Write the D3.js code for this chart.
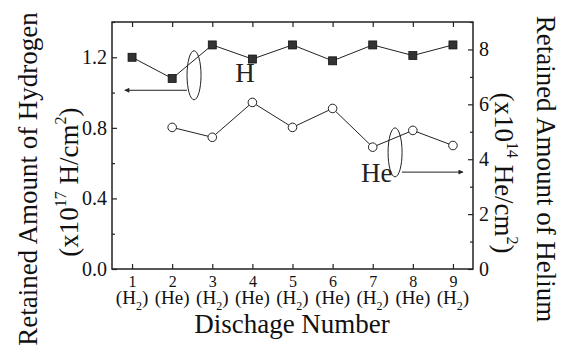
<!DOCTYPE html>
<html>
<head>
<meta charset="utf-8">
<script src="https://cdn.jsdelivr.net/npm/d3@7"></script>
<style>
body { margin: 0; background: white; }
svg { display: block; font-family: "Liberation Serif", "Times New Roman", serif; }
</style>
</head>
<body>
<div id="chart"></div>
<script>
var svgWidth = 574
var svgHeight = 356
var margin = {left: 112, top: 22, right: 101, bottom: 87}

// discharge number and gas used in each discharge
var discharges = [1, 2, 3, 4, 5, 6, 7, 8, 9]
var gases = ["H", "He", "H", "He", "H", "He", "H", "He", "H"]
// retained hydrogen, x10^17 H/cm^2 (left axis)
var hydrogen = [1.20, 1.08, 1.27, 1.19, 1.27, 1.18, 1.27, 1.21, 1.27]
// retained helium, x10^14 He/cm^2 (right axis), from discharge 2 on
var heliumX = [2, 3, 4, 5, 6, 7, 8, 9]
var helium = [5.16, 4.80, 6.07, 5.16, 5.85, 4.44, 5.05, 4.50]

var leftTicks = [0.0, 0.4, 0.8, 1.2]
var leftMinor = [0.2, 0.6, 1.0, 1.4]
var rightTicks = [0, 2, 4, 6, 8]
var rightMinor = [1, 3, 5, 7, 9]

var plotW = svgWidth - margin.left - margin.right
var plotH = svgHeight - margin.top - margin.bottom

var x = d3.scaleLinear().domain([0.5, 9.5]).range([margin.left, margin.left + plotW])
var yL = d3.scaleLinear().domain([0, 1.4]).range([margin.top + plotH, margin.top])
var yR = d3.scaleLinear().domain([0, 9]).range([margin.top + plotH, margin.top])

var svg = d3.select("#chart")
	.append("svg")
	.attr("width", svgWidth)
	.attr("height", svgHeight)

svg.append("defs").append("marker")
	.attr("id", "arrow")
	.attr("viewBox", "0 0 10 10")
	.attr("refX", 9)
	.attr("refY", 5)
	.attr("markerWidth", 7)
	.attr("markerHeight", 5)
	.attr("markerUnits", "userSpaceOnUse")
	.attr("orient", "auto")
	.append("path")
	.attr("d", "M0,0L10,5L0,10z")
	.attr("fill", "#222")

// frame
svg.append("rect")
	.attr("x", margin.left)
	.attr("y", margin.top)
	.attr("width", plotW)
	.attr("height", plotH)
	.attr("fill", "none")
	.attr("stroke", "#222")
	.attr("stroke-width", 1.5)

var styleAxis = function(g) {
	g.select(".domain").remove()
	g.selectAll(".tick line").attr("stroke", "#222").attr("stroke-width", 1.2)
	g.selectAll(".tick text").attr("fill", "#111")
}

// left axis
svg.append("g")
	.attr("transform", "translate(" + margin.left + ",0)")
	.call(d3.axisLeft(yL).tickValues(leftTicks).tickSize(-5).tickPadding(5).tickFormat(d3.format(".1f")))
	.call(styleAxis)
	.attr("font-family", null)
	.attr("font-size", 20)
svg.append("g")
	.attr("transform", "translate(" + margin.left + ",0)")
	.call(d3.axisLeft(yL).tickValues(leftMinor).tickSize(-3).tickFormat(""))
	.call(styleAxis)

// right axis
svg.append("g")
	.attr("transform", "translate(" + (margin.left + plotW) + ",0)")
	.call(d3.axisRight(yR).tickValues(rightTicks).tickSize(-5).tickPadding(6).tickFormat(d3.format("d")))
	.call(styleAxis)
	.attr("font-family", null)
	.attr("font-size", 20)
svg.append("g")
	.attr("transform", "translate(" + (margin.left + plotW) + ",0)")
	.call(d3.axisRight(yR).tickValues(rightMinor).tickSize(-3).tickFormat(""))
	.call(styleAxis)

// bottom axis
svg.append("g")
	.attr("transform", "translate(0," + (margin.top + plotH) + ")")
	.call(d3.axisBottom(x).tickValues(discharges).tickSize(-5).tickPadding(7).tickFormat(d3.format("d")))
	.call(styleAxis)
	.attr("font-family", null)
	.attr("font-size", 16)

// top axis, ticks only
svg.append("g")
	.attr("transform", "translate(0," + margin.top + ")")
	.call(d3.axisTop(x).tickValues(discharges).tickSize(-5).tickFormat(""))
	.call(styleAxis)

// gas labels under the numbers
var gasText = svg.append("g")
	.selectAll("text")
	.data(discharges)
	.enter()
	.append("text")
	.attr("x", function(d){return x(d)})
	.attr("y", margin.top + plotH + 35)
	.attr("text-anchor", "middle")
	.attr("font-size", 19)
	.attr("fill", "#111")
gasText.each(function(d, i) {
	var t = d3.select(this)
	if (gases[i] === "H") {
		t.append("tspan").text("(H")
		t.append("tspan").attr("font-size", 12).attr("dy", 6).text("2")
		t.append("tspan").attr("dy", -6).text(")")
	} else {
		t.append("tspan").text("(He)")
	}
})

// lines and markers
var line = d3.line()

svg.append("path")
	.attr("d", line(discharges.map(function(d, i){return [x(d), yL(hydrogen[i])]})))
	.attr("fill", "none")
	.attr("stroke", "#222")
	.attr("stroke-width", 1)

svg.append("path")
	.attr("d", line(heliumX.map(function(d, i){return [x(d), yR(helium[i])]})))
	.attr("fill", "none")
	.attr("stroke", "#222")
	.attr("stroke-width", 1)

var sq = 8
svg.append("g")
	.selectAll("rect")
	.data(discharges)
	.enter()
	.append("rect")
	.attr("x", function(d){return x(d) - sq/2})
	.attr("y", function(d, i){return yL(hydrogen[i]) - sq/2})
	.attr("width", sq)
	.attr("height", sq)
	.attr("fill", "#333")
	.attr("stroke", "#111")
	.attr("stroke-width", 0.8)

svg.append("g")
	.selectAll("circle")
	.data(heliumX)
	.enter()
	.append("circle")
	.attr("cx", function(d){return x(d)})
	.attr("cy", function(d, i){return yR(helium[i])})
	.attr("r", 4.3)
	.attr("fill", "white")
	.attr("stroke", "#222")
	.attr("stroke-width", 1)

// annotations: ellipse, arrow to axis, label (in data units)
var hNote = {cx: 2.545, cy: 1.098, x1: 2.37, x2: 0.82, ay: 1.013, tx: 3.57, ty: 1.058, text: "H"}
var heNote = {cx: 7.557, cy: 4.25, x1: 7.73, x2: 9.25, ay: 3.53, tx: 6.71, ty: 3.16, text: "He"}

var drawNote = function(n, yScale) {
	svg.append("ellipse")
		.attr("cx", x(n.cx))
		.attr("cy", yScale(n.cy))
		.attr("rx", 7)
		.attr("ry", 24.5)
		.attr("fill", "none")
		.attr("stroke", "#222")
		.attr("stroke-width", 1)
	svg.append("line")
		.attr("x1", x(n.x1))
		.attr("x2", x(n.x2))
		.attr("y1", yScale(n.ay))
		.attr("y2", yScale(n.ay))
		.attr("stroke", "#222")
		.attr("stroke-width", 1)
		.attr("marker-end", "url(#arrow)")
	svg.append("text")
		.attr("x", x(n.tx))
		.attr("y", yScale(n.ty))
		.attr("font-size", 27)
		.attr("fill", "#222")
		.text(n.text)
}
drawNote(hNote, yL)
drawNote(heNote, yR)

// axis titles
svg.append("text")
	.attr("x", margin.left + plotW / 2 - 0.5)
	.attr("y", 333)
	.attr("text-anchor", "middle")
	.attr("font-size", 27)
	.attr("fill", "#111")
	.text("Dischage Number")

var leftTitle = svg.append("g").attr("transform", "translate(37,179) rotate(-90)")
leftTitle.append("text")
	.attr("text-anchor", "middle")
	.attr("font-size", 27)
	.attr("fill", "#111")
	.text("Retained Amount of Hydrogen")
var leftUnit = leftTitle.append("text")
	.attr("y", 41)
	.attr("x", -3)
	.attr("text-anchor", "middle")
	.attr("font-size", 27)
	.attr("fill", "#111")
leftUnit.append("tspan").text("(x10")
leftUnit.append("tspan").attr("font-size", 16).attr("dy", -12).text("17")
leftUnit.append("tspan").attr("dy", 12).text(" H/cm")
leftUnit.append("tspan").attr("font-size", 16).attr("dy", -12).text("2")
leftUnit.append("tspan").attr("dy", 12).text(")")

var rightTitle = svg.append("g").attr("transform", "translate(537,169) rotate(90)")
rightTitle.append("text")
	.attr("text-anchor", "middle")
	.attr("font-size", 27)
	.attr("fill", "#111")
	.text("Retained Amount of Helium")
var rightUnit = rightTitle.append("text")
	.attr("y", 42)
	.attr("x", 4)
	.attr("text-anchor", "middle")
	.attr("font-size", 27)
	.attr("fill", "#111")
rightUnit.append("tspan").text("(x10")
rightUnit.append("tspan").attr("font-size", 16).attr("dy", -12).text("14")
rightUnit.append("tspan").attr("dy", 12).text(" He/cm")
rightUnit.append("tspan").attr("font-size", 16).attr("dy", -12).text("2")
rightUnit.append("tspan").attr("dy", 12).text(")")
</script>
</body>
</html>
